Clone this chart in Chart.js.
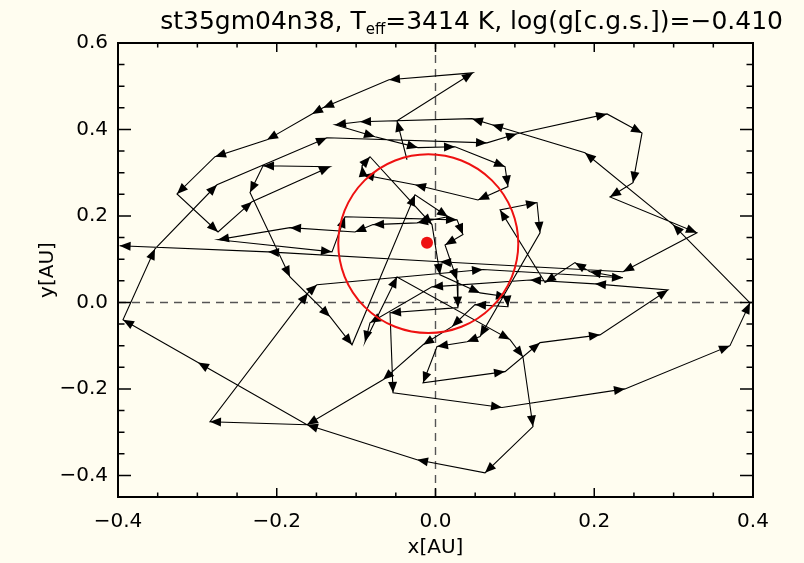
<!DOCTYPE html>
<html>
<head>
<meta charset="utf-8">
<script src="https://cdn.jsdelivr.net/npm/chart.js@4.4.0/dist/chart.umd.min.js"></script>
<style>
  html, body { margin: 0; padding: 0; background: #fffdf0; }
  canvas { display: block; }
</style>
</head>
<body>
<canvas id="c" width="804" height="563"></canvas>
<script>
// Photocentre track (AU), in time order
const pathX = [-0.0359,-0.0485,0.0472,-0.0586,-0.1417,-0.1556,-0.2123,-0.2778,-0.3257,-0.2740,
  -0.2312,-0.1329,-0.2173,-0.2337,-0.1833,-0.1329,-0.1052,-0.0258,0.0157,-0.0233,
  -0.0787,-0.1014,-0.1833,-0.2740,-0.1304,-0.1140,0.0271,0.0346,0.0120,0.0271,
  0.0283,-0.0573,-0.0535,0.0838,0.2387,0.3710,0.3962,0.2992,0.1883,0.0712,
  0.0460,-0.0951,-0.1266,-0.0762,-0.0220,0.0246,0.0876,0.0913,0.0535,-0.0258,
  -0.0913,-0.0926,-0.0825,-0.0044,0.0057,0.0561,0.0901,0.0913,0.0498,0.0208,
  -0.0157,-0.0661,-0.1619,-0.2841,-0.1606,-0.1493,0.0598,0.2362,0.1946,0.1757,
  0.1380,0.0813,0.1279,0.1317,0.0561,0.0397,0.0019,-0.0157,0.0876,0.1317,
  0.2072,0.2929,0.2009,0.1191,-0.0044,-0.0825,-0.0888,-0.0485,0.0939,0.1102,
  0.1228,0.0624,-0.0233,-0.1619,-0.2992,-0.3937,-0.3534,-0.2753,-0.1367,0.0649,
  0.1027,0.2161,0.2602,0.2488,0.2198,0.3294,0.2362,0.0057,-0.2110,-0.3980];
const pathY = [0.330,0.420,0.531,0.515,0.450,0.436,0.376,0.337,0.251,0.163,
  0.233,0.314,0.316,0.254,0.059,-0.033,-0.098,0.249,0.198,0.184,
  0.180,0.163,0.173,0.145,0.117,0.198,0.191,0.157,0.133,0.052,
  -0.012,-0.024,-0.209,-0.243,-0.200,-0.100,-0.001,0.180,0.346,0.411,
  0.425,0.418,0.411,0.383,0.358,0.360,0.314,0.268,0.237,0.272,
  0.295,0.316,0.337,0.180,0.064,0.022,0.013,-0.010,-0.005,-0.056,
  -0.098,-0.179,-0.283,-0.276,0.022,0.041,0.076,0.057,0.071,0.092,
  0.046,0.214,0.231,0.161,-0.079,-0.091,-0.102,-0.186,-0.160,-0.093,
  -0.075,0.029,0.043,0.052,0.036,-0.047,-0.091,0.059,-0.086,-0.126,
  -0.287,-0.394,-0.364,-0.283,-0.139,-0.040,0.124,0.272,0.381,0.369,
  0.390,0.436,0.392,0.277,0.244,0.161,0.071,0.094,0.117,0.131];

// Time-averaged photocentre
const meanX = [-0.0107];
const meanY = [0.138];

// Stellar radius ring (AU)
const ringCentreX = -0.0091;
const ringCentreY = 0.136;
const ringRadiusX = 0.1134;
const ringRadiusY = 0.2069;

// Axis ticks
const xMajor = [-0.4, -0.2, 0.0, 0.2, 0.4];
const yMajor = [-0.4, -0.2, 0.0, 0.2, 0.4, 0.6];
const xMinor = [-0.35, -0.30, -0.25, -0.15, -0.10, -0.05, 0.05, 0.10, 0.15, 0.25, 0.30, 0.35];
const yMinor = [-0.45, -0.35, -0.30, -0.25, -0.15, -0.10, -0.05, 0.05, 0.10, 0.15, 0.25, 0.30, 0.35, 0.45, 0.50, 0.55];

const FONT = "'DejaVu Sans', sans-serif";
const INK = '#000000';
const PAPER = '#fffdf0';
const RED = '#ee1111';

function fmt(v) {
  const s = Math.abs(v).toFixed(1);
  return v < -1e-9 ? '\u2212' + s : s;
}

const paperPlugin = {
  id: 'paper',
  beforeDraw(chart) {
    const ctx = chart.ctx;
    ctx.save();
    ctx.fillStyle = PAPER;
    ctx.fillRect(0, 0, chart.width, chart.height);
    ctx.restore();
  }
};

const zeroLinesPlugin = {
  id: 'zeroLines',
  beforeDatasetsDraw(chart) {
    const {ctx, chartArea: a, scales: {x, y}} = chart;
    ctx.save();
    ctx.strokeStyle = '#555555';
    ctx.lineWidth = 1.4;
    ctx.setLineDash([8, 6]);
    const x0 = x.getPixelForValue(0), y0 = y.getPixelForValue(0);
    ctx.beginPath();
    ctx.moveTo(x0, a.bottom); ctx.lineTo(x0, a.top);
    ctx.moveTo(a.left, y0); ctx.lineTo(a.right, y0);
    ctx.stroke();
    ctx.restore();
  }
};

const arrowPlugin = {
  id: 'arrows',
  afterDatasetsDraw(chart) {
    const ctx = chart.ctx;
    const meta = chart.getDatasetMeta(1);
    const pts = meta.data;
    ctx.save();
    ctx.fillStyle = INK;
    const len = 11, half = 4.5;
    for (let i = 1; i < pts.length; i++) {
      const p = pts[i], q = pts[i - 1];
      const ang = Math.atan2(p.y - q.y, p.x - q.x);
      const c = Math.cos(ang), s = Math.sin(ang);
      const bx = p.x - len * c, by = p.y - len * s;
      ctx.beginPath();
      ctx.moveTo(p.x, p.y);
      ctx.lineTo(bx - half * s, by + half * c);
      ctx.lineTo(bx + half * s, by - half * c);
      ctx.closePath();
      ctx.fill();
    }
    ctx.restore();
  }
};

const ringPlugin = {
  id: 'ring',
  afterDatasetsDraw(chart) {
    const {ctx, scales: {x, y}} = chart;
    const cx = x.getPixelForValue(ringCentreX);
    const cy = y.getPixelForValue(ringCentreY);
    const rx = Math.abs(x.getPixelForValue(ringCentreX + ringRadiusX) - cx);
    const ry = Math.abs(y.getPixelForValue(ringCentreY + ringRadiusY) - cy);
    ctx.save();
    ctx.strokeStyle = RED;
    ctx.lineWidth = 2;
    ctx.beginPath();
    ctx.ellipse(cx, cy, rx, ry, 0, 0, Math.PI * 2);
    ctx.stroke();
    ctx.restore();
  }
};

const framePlugin = {
  id: 'frame',
  afterDraw(chart) {
    const {ctx, chartArea: a, scales: {x, y}} = chart;
    ctx.save();
    ctx.strokeStyle = INK;
    ctx.lineWidth = 1.5;
    ctx.beginPath();
    const xt = (v, L) => {
      const px = x.getPixelForValue(v);
      ctx.moveTo(px, a.bottom); ctx.lineTo(px, a.bottom - L);
      ctx.moveTo(px, a.top); ctx.lineTo(px, a.top + L);
    };
    const yt = (v, L) => {
      const py = y.getPixelForValue(v);
      ctx.moveTo(a.left, py); ctx.lineTo(a.left + L, py);
      ctx.moveTo(a.right, py); ctx.lineTo(a.right - L, py);
    };
    xMajor.forEach(v => xt(v, 9));
    xMinor.forEach(v => xt(v, 4.5));
    yMajor.forEach(v => yt(v, 13));
    yMinor.forEach(v => yt(v, 6.5));
    ctx.stroke();
    ctx.lineWidth = 2;
    ctx.strokeRect(a.left, a.top, a.right - a.left, a.bottom - a.top);
    ctx.restore();
  }
};

const headingPlugin = {
  id: 'heading',
  afterDraw(chart) {
    const ctx = chart.ctx;
    const big = '25px ' + FONT, small = '15px ' + FONT;
    const p1 = 'st35gm04n38, T', sub = 'eff', p2 = '=3414 K, log(g[c.g.s.])=\u22120.410';
    ctx.save();
    ctx.fillStyle = INK;
    ctx.textBaseline = 'alphabetic';
    ctx.font = big; const w1 = ctx.measureText(p1).width, w3 = ctx.measureText(p2).width;
    ctx.font = small; const w2 = ctx.measureText(sub).width;
    const total = w1 + w2 + w3;
    const x0 = 783 - total;
    const base = 29;
    ctx.font = big; ctx.fillText(p1, x0, base);
    ctx.font = small; ctx.fillText(sub, x0 + w1, base + 5);
    ctx.font = big; ctx.fillText(p2, x0 + w1 + w2, base);
    ctx.restore();
  }
};

new Chart(document.getElementById('c'), {
  type: 'scatter',
  data: {
    datasets: [
      {
        data: meanX.map((v, i) => ({x: v, y: meanY[i]})),
        pointRadius: 6,
        pointBackgroundColor: RED,
        pointBorderColor: RED,
        pointBorderWidth: 0,
        showLine: false,
        order: 0
      },
      {
        data: pathX.map((v, i) => ({x: v, y: pathY[i]})),
        showLine: true,
        borderColor: INK,
        borderWidth: 1.1,
        pointRadius: 0,
        tension: 0,
        fill: false,
        order: 1
      }
    ]
  },
  options: {
    responsive: false,
    animation: false,
    devicePixelRatio: 1,
    layout: { padding: { left: 0, right: 51, top: 43, bottom: 0 } },
    plugins: { legend: { display: false }, tooltip: { enabled: false }, title: { display: false } },
    scales: {
      x: {
        type: 'linear', min: -0.4, max: 0.4,
        afterBuildTicks: s => { s.ticks = xMajor.map(v => ({value: v})); },
        afterFit: s => { s.height = 66; },
        grid: { display: false, drawTicks: false },
        border: { display: false },
        ticks: { color: INK, font: { family: FONT, size: 20 }, padding: 13, maxRotation: 0, callback: v => fmt(v) },
        title: { display: true, text: 'x[AU]', color: INK, font: { family: FONT, size: 20 }, padding: { top: 0, bottom: 3 } }
      },
      y: {
        type: 'linear', min: -0.45, max: 0.6,
        afterBuildTicks: s => { s.ticks = yMajor.map(v => ({value: v})); },
        afterFit: s => { s.width = 118; },
        grid: { display: false, drawTicks: false },
        border: { display: false },
        ticks: { color: INK, font: { family: FONT, size: 20 }, padding: 10, callback: v => fmt(v) },
        title: { display: true, text: 'y[AU]', color: INK, font: { family: FONT, size: 20 }, padding: { top: 36, bottom: 0 } }
      }
    }
  },
  plugins: [paperPlugin, zeroLinesPlugin, arrowPlugin, ringPlugin, framePlugin, headingPlugin]
});
</script>
</body>
</html>
